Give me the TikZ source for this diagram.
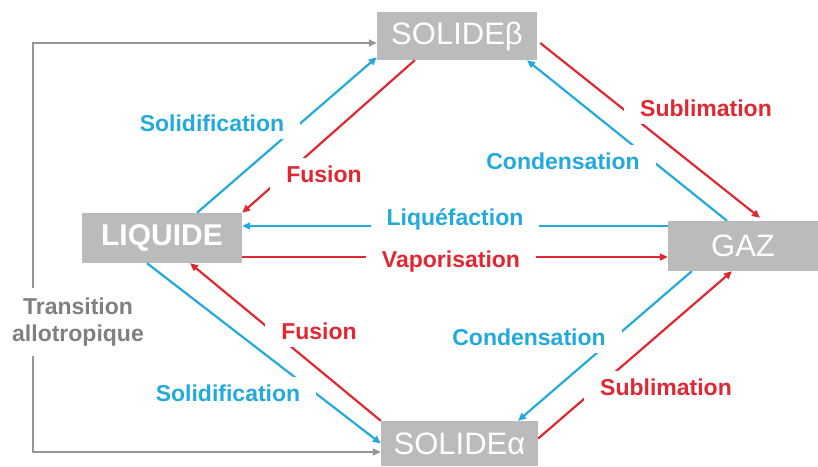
\documentclass[tikz,border=0pt]{standalone}
\usepackage{fontspec}
\setmainfont{Liberation Sans}
\usetikzlibrary{arrows.meta,calc}

\definecolor{phaseblue}{RGB}{35,170,220}
\definecolor{phasered}{RGB}{225,40,50}
\definecolor{boxgray}{RGB}{187,187,187}
\definecolor{railgray}{RGB}{150,150,150}
\definecolor{textgray}{RGB}{128,128,128}

\begin{document}
\begin{tikzpicture}[x=1pt,y=-1pt,
  phase/.style={fill=boxgray,text=white,inner sep=0pt,font=\fontsize{31}{31}\selectfont},
  tip/.style={-{Triangle[length=8pt,width=7pt]}},
  blueline/.style={tip,draw=phaseblue,fill=phaseblue,line width=2.2pt},
  redline/.style={tip,draw=phasered,fill=phasered,line width=2.2pt},
  lab/.style={fill=white,inner xsep=16pt,inner ysep=8pt,font=\fontsize{23}{27}\selectfont\bfseries},
  bluelab/.style={lab,text=phaseblue},
  redlab/.style={lab,text=phasered}]
\useasboundingbox (0,0) rectangle (818,466);

% phase boxes
\node[phase,minimum width=160pt,minimum height=48pt] (solb) at (457,36) {SOLIDEβ};
\node[phase,minimum width=160pt,minimum height=50pt,font=\fontsize{30}{30}\selectfont\bfseries] (liq) at (162,238) {LIQUIDE};
\node[phase,minimum width=150pt,minimum height=50pt] (gaz) at (743,246) {GAZ};
\node[phase,minimum width=157pt,minimum height=45pt] (sola) at (459.5,443.5) {SOLIDEα};

% allotropic transition rail on the left
\coordinate (rail) at (33,300);
\draw[railgray,line width=1.8pt,{Triangle[length=8pt,width=7pt]}-{Triangle[length=8pt,width=7pt]}]
  ($(sola.west)+(0,8.5)$) -| (rail) |- ($(solb.west)+(0,7)$);

% liquid <-> solid beta
\draw[blueline] ($(liq.north)+(35,0)$) -- ($(solb.south west)+(0,-3)$);
\draw[redline] ($(solb.south west)+(38,0)$) -- (liq.north east);
% solid beta <-> gas
\draw[redline] ($(solb.east)+(3,7)$) -- ($(gaz.north)+(17,-3)$);
\draw[blueline] ($(gaz.north)+(-16,0)$) -- ($(solb.south)+(70,0)$);
% liquid <-> gas
\draw[blueline] ($(gaz.west)+(0,-20)$) -- ($(liq.east)+(0,-12)$);
\draw[redline] ($(liq.east)+(0,19)$) -- ($(gaz.west)+(0,11)$);
% liquid <-> solid alpha
\draw[redline] (sola.north west) -- ($(liq.south)+(28,0)$);
\draw[blueline] ($(liq.south)+(-15,0)$) -- (sola.west);
% gas <-> solid alpha
\draw[blueline] ($(gaz.south west)+(24,0)$) -- ($(sola.north)+(58.5,0)$);
\draw[redline] ($(sola.east)+(0,-5)$) -- ($(gaz.south)+(-11,0)$);

% transition labels
\node[bluelab] (l1) at (212,123) {Solidification};
\node[redlab] (l2) at (324,174) {Fusion};
\node[redlab] (l3) at (706,108) {Sublimation};
\node[bluelab] (l4) at (563,161) {Condensation};
\node[bluelab] (l5) at (455,219) {Liquéfaction};
\node[redlab] (l6) at (451,262) {Vaporisation};
\node[redlab] (l7) at (319,331) {Fusion};
\node[bluelab] (l8) at (228,393) {Solidification};
\node[bluelab] (l9) at (529,337) {Condensation};
\node[redlab] (l10) at (666,387) {Sublimation};
\node[lab,text=textgray,align=center,inner xsep=2pt,inner ysep=10pt] (tr) at (78,322) {Transition\\allotropique};
\end{tikzpicture}
\end{document}
